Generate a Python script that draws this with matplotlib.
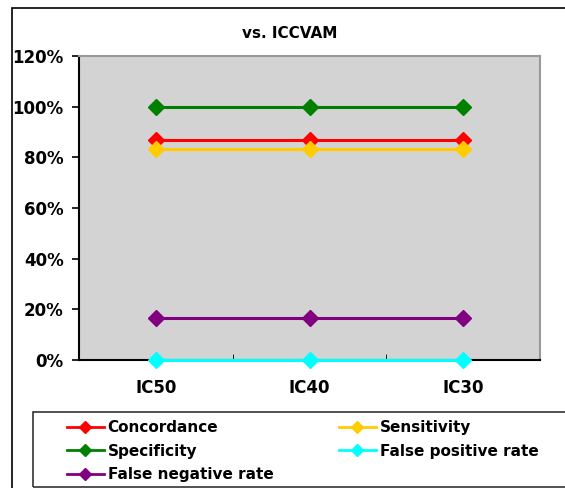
import matplotlib
matplotlib.use("Agg")
import matplotlib.pyplot as plt
from matplotlib.patches import Rectangle
from matplotlib.ticker import FuncFormatter, FixedLocator

categories = ["IC50", "IC40", "IC30"]
concordance = [86.7, 86.7, 86.7]
sensitivity = [83.3, 83.3, 83.3]
specificity = [100, 100, 100]
false_positive = [0, 0, 0]
false_negative = [16.7, 16.7, 16.7]

series = [
    ("Concordance", concordance, "#FF0000"),
    ("Sensitivity", sensitivity, "#FFCC00"),
    ("Specificity", specificity, "#008000"),
    ("False positive rate", false_positive, "#00FFFF"),
    ("False negative rate", false_negative, "#800080"),
]

plt.rcParams["font.family"] = "DejaVu Sans"
plt.rcParams["font.weight"] = "bold"

fig = plt.figure(figsize=(5.65, 4.88), dpi=100)
W, H = 565, 488
ax = fig.add_axes([79 / W, 1 - 360 / H, (540 - 79) / W, (360 - 56) / H])
ax.set_facecolor("#D3D3D3")

x = list(range(len(categories)))
for name, vals, color in series:
    ax.plot(x, vals, color=color, lw=2.2, marker="D", ms=8, label=name,
            clip_on=False, zorder=3)

ax.set_xlim(-0.5, 2.5)
ax.set_ylim(0, 120)
ax.set_yticks(range(0, 121, 20))
ax.yaxis.set_major_formatter(FuncFormatter(lambda v, p: f"{int(v)}%"))
ax.set_xticks(x)
ax.set_xticklabels(categories)
ax.xaxis.set_minor_locator(FixedLocator([0.5, 1.5]))
ax.tick_params(axis="x", which="major", length=0, pad=14, labelsize=12)
ax.tick_params(axis="x", which="minor", direction="in", length=4)
ax.tick_params(axis="y", length=5, width=1.2, labelsize=12, pad=6)
for lab in ax.get_xticklabels() + ax.get_yticklabels():
    lab.set_fontweight("bold")

ax.spines["left"].set_color("black")
ax.spines["bottom"].set_color("black")
ax.spines["left"].set_linewidth(1.5)
ax.spines["bottom"].set_linewidth(1.5)
for s in ("top", "right"):
    ax.spines[s].set_color("#999999")
    ax.spines[s].set_linewidth(1.5)

fig.text(290 / W, 1 - 33 / H, "vs. ICCVAM", ha="center", va="center",
         fontsize=11, fontweight="bold")

# outer chart frame, running off the right and bottom edges
fig.patches.append(Rectangle((12 / W, -0.1), 1.0, 1 - 8 / H + 0.1,
                             transform=fig.transFigure, fill=False,
                             edgecolor="black", lw=1.2))

# legend frame
fig.patches.append(Rectangle((33 / W, 1 - 487 / H), 1.0, (487 - 412) / H,
                             transform=fig.transFigure, fill=False,
                             edgecolor="#333333", lw=1.2))

handles, labels = ax.get_legend_handles_labels()
order = [0, 2, 4, 1, 3]
leg = fig.legend([handles[i] for i in order], [labels[i] for i in order],
                 ncol=2, loc="upper left",
                 bbox_to_anchor=(61 / W, 1 - 414 / H), frameon=False,
                 prop={"weight": "bold", "size": 11},
                 handlelength=2.4, handletextpad=0.25, columnspacing=4.3,
                 labelspacing=0.55, borderaxespad=0, markerscale=0.75)
for h in leg.legend_handles:
    h.set_linewidth(2)

fig.savefig("out.png", dpi=100)
